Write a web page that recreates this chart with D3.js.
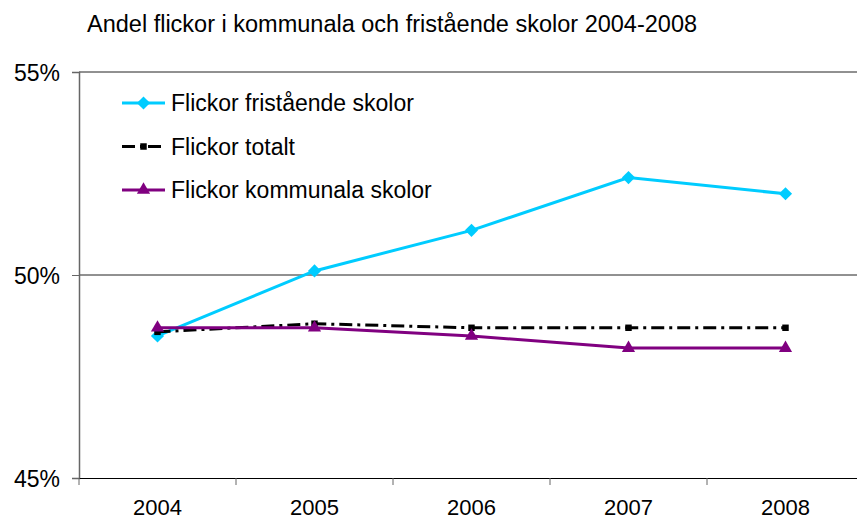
<!DOCTYPE html>
<html>
<head>
<meta charset="utf-8">
<script src="https://cdn.jsdelivr.net/npm/d3@7"></script>
<style>
  body { margin: 0; background: #fff; }
  text { font-family: "Liberation Sans", Arial, sans-serif; fill: #000; }
</style>
</head>
<body>
<div id="chart"></div>
<script>
// Data
const years = ['2004', '2005', '2006', '2007', '2008'];
const fristaende = [48.5, 50.1, 51.1, 52.4, 52.0];
const totalt = [48.6, 48.8, 48.7, 48.7, 48.7];
const kommunala = [48.7, 48.7, 48.5, 48.2, 48.2];
const yTicks = [45, 50, 55];

// Dimensions
let margin = { left: 79, right: -7, top: 72, bottom: 43 };
let width = 857 - margin.left - margin.right;
let height = 521 - margin.top - margin.bottom;

// Scales
let x = d3.scaleBand().domain(years).range([0, width]);
let y = d3.scaleLinear().domain([45, 55]).range([height, 0]);

let svg = d3.select('#chart')
  .append('svg')
  .attr('width', 857)
  .attr('height', 521);

svg.append('text')
  .attr('x', 87)
  .attr('y', 32)
  .style('font-size', '23.5px')
  .text('Andel flickor i kommunala och fristående skolor 2004-2008');

let g = svg.append('g')
  .attr('transform', `translate(${margin.left},${margin.top})`);

// Gridlines
g.selectAll('.grid')
  .data(yTicks.filter(d => d > 45))
  .enter()
  .append('line')
  .attr('x1', 0).attr('x2', width)
  .attr('y1', d => y(d)).attr('y2', d => y(d))
  .attr('stroke', '#222')
  .attr('stroke-width', 1);

// Axes
let yAxis = g.append('g')
  .call(d3.axisLeft(y).tickValues(yTicks).tickSize(7).tickFormat(d => d + '%'));
yAxis.select('.domain').attr('stroke', '#666').attr('stroke-width', 1.5);
yAxis.selectAll('.tick line').attr('stroke', '#666');
yAxis.selectAll('.tick text').attr('x', -19).attr('dy', '0.35em')
  .style('font-size', '23px').style('font-family', '"Liberation Sans", Arial, sans-serif');

let xAxis = g.append('g')
  .attr('transform', `translate(0,${height})`)
  .call(d3.axisBottom(x).tickSize(0));
xAxis.select('.domain').attr('stroke', '#000').attr('stroke-width', 1.2);
xAxis.selectAll('.tick text').attr('y', 37).attr('dy', 0)
  .style('font-size', '22px').style('font-family', '"Liberation Sans", Arial, sans-serif');
// category separators
g.selectAll('.sep')
  .data(years)
  .enter()
  .append('line')
  .attr('x1', d => x(d)).attr('x2', d => x(d))
  .attr('y1', height).attr('y2', height + 7)
  .attr('stroke', '#666');

// Series
let series = [
  { name: 'Flickor fristående skolor', values: fristaende, color: '#00CCFF', dash: null, marker: 'diamond' },
  { name: 'Flickor totalt', values: totalt, color: '#000', dash: '13,5,3,5', marker: 'square' },
  { name: 'Flickor kommunala skolor', values: kommunala, color: '#800080', dash: null, marker: 'triangle' }
];

let line = d3.line()
  .x((d, i) => x(years[i]) + x.bandwidth() / 2)
  .y(d => y(d));

function symbolFor(m) {
  if (m === 'diamond') return d3.symbol().type(d3.symbolDiamond2).size(110)();
  if (m === 'square') return d3.symbol().type(d3.symbolSquare).size(42)();
  return d3.symbol().type(d3.symbolTriangle2).size(125)();
}

series.forEach(s => {
  g.append('path')
    .datum(s.values)
    .attr('fill', 'none')
    .attr('stroke', s.color)
    .attr('stroke-width', 3)
    .attr('stroke-dasharray', s.dash)
    .attr('d', line);
  g.selectAll('.m-' + s.marker)
    .data(s.values)
    .enter()
    .append('path')
    .attr('transform', (d, i) => `translate(${x(years[i]) + x.bandwidth() / 2},${y(d)})`)
    .attr('d', symbolFor(s.marker))
    .attr('fill', s.color);
});

// Legend
let legend = svg.append('g');
series.forEach((s, i) => {
  let ly = 103 + i * 43.5;
  legend.append('line')
    .attr('x1', 122).attr('x2', 165)
    .attr('y1', ly).attr('y2', ly)
    .attr('stroke', s.color)
    .attr('stroke-width', 3)
    .attr('stroke-dasharray', s.dash);
  legend.append('path')
    .attr('transform', `translate(143.5,${ly})`)
    .attr('d', symbolFor(s.marker))
    .attr('fill', s.color);
  legend.append('text')
    .attr('x', 171)
    .attr('y', ly + 8)
    .style('font-size', '23px')
    .text(s.name);
});
</script>
</body>
</html>
